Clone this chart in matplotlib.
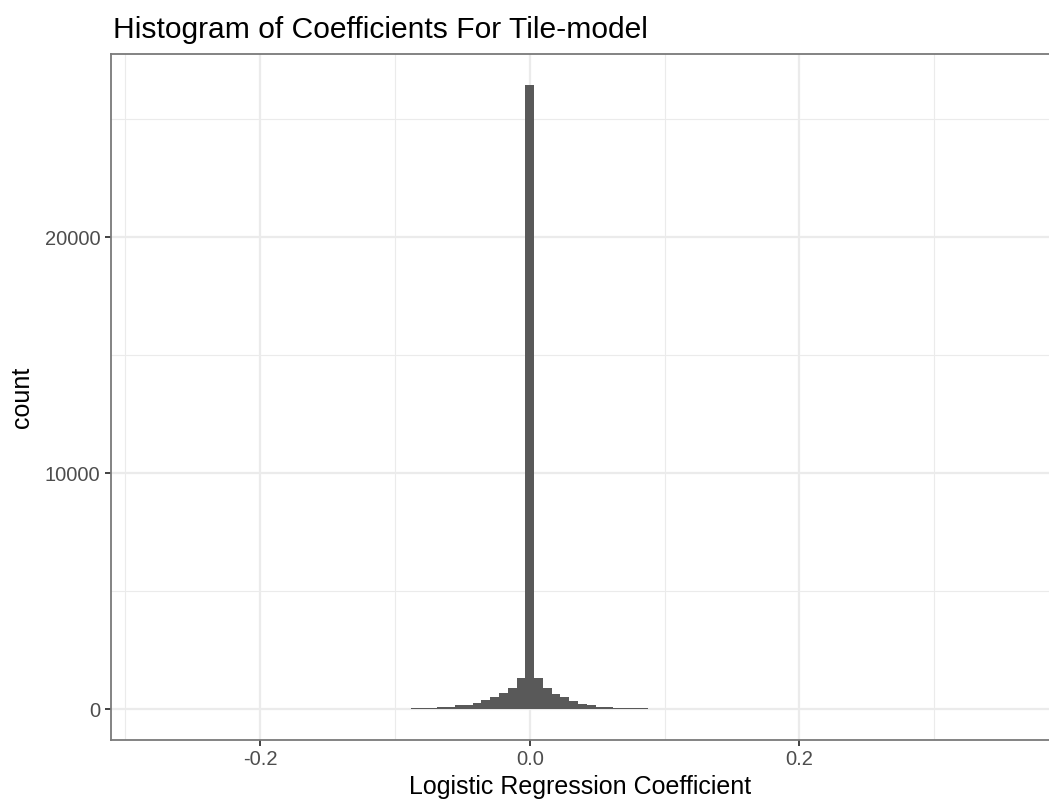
"""Histogram of per-tile logistic regression coefficients."""

import matplotlib

matplotlib.use("Agg")
import matplotlib.pyplot as plt
import numpy as np
from matplotlib.ticker import FixedLocator

plt.rcParams["font.family"] = ["Liberation Sans", "DejaVu Sans"]

# bin layout: equal-width bins, one of them centred on 0
BIN_WIDTH = 0.00652

# counts per bin, left to right
counts_left = [1, 1, 1, 1, 2, 1, 2, 2, 2, 3,
               2, 3, 3, 3, 4, 3, 4, 4, 5, 5,
               6, 6, 7, 8, 9, 10, 12, 15, 30, 40,
               50, 75, 95, 150, 190, 240, 380, 490, 680, 890,
               1300]
count_zero = [26450]
counts_right = [1300, 890, 640, 490, 350, 200, 160, 95, 75, 45,
                35, 30, 25, 20, 12, 9, 7, 6, 5, 5,
                4, 4, 3, 3, 3, 2, 2, 2, 2, 2,
                2, 1, 1, 1, 1, 1, 1, 1, 1, 1,
                1, 1, 1, 1, 1, 1, 1, 1, 1, 1,
                1, 1, 1, 1, 1, 1, 1]
counts = np.array(counts_left + count_zero + counts_right, dtype=float)

x_major = [-0.2, 0.0, 0.2]
x_minor = [-0.3, -0.1, 0.1, 0.3]
y_major = [0, 10000, 20000]
y_minor = [5000, 15000, 25000]

TITLE = "Histogram of Coefficients For Tile-model"
XLABEL = "Logistic Regression Coefficient"
YLABEL = "count"


def main() -> None:
    first_bin = -len(counts_left)
    edges = (np.arange(len(counts) + 1) + first_bin - 0.5) * BIN_WIDTH

    fig = plt.figure(figsize=(10.49, 7.99), dpi=100)
    ax = fig.add_axes([0.1058, 0.0738, 0.8952, 0.8586])

    ax.stairs(counts, edges, fill=True, color="#595959", linewidth=0)

    ax.set_xlim(-0.3106, 0.386)
    ax.set_ylim(-1314, 27754)

    ax.xaxis.set_major_locator(FixedLocator(x_major))
    ax.xaxis.set_minor_locator(FixedLocator(x_minor))
    ax.yaxis.set_major_locator(FixedLocator(y_major))
    ax.yaxis.set_minor_locator(FixedLocator(y_minor))
    ax.set_xticklabels(["-0.2", "0.0", "0.2"])
    ax.set_yticklabels(["0", "10000", "20000"])

    ax.set_axisbelow(True)
    ax.grid(which="major", color="#EBEBEB", linewidth=1.6)
    ax.grid(which="minor", color="#EBEBEB", linewidth=0.8)

    ax.tick_params(which="major", length=4.5, width=1.3, color="#333333",
                   labelsize=14.5, labelcolor="#4D4D4D", pad=3)
    ax.tick_params(which="minor", length=0)

    for side in ("left", "top", "bottom"):
        ax.spines[side].set_color("#7a7a7a")
        ax.spines[side].set_linewidth(1.3)
    ax.spines["right"].set_visible(False)

    ax.set_xlabel(XLABEL, fontsize=18, color="black", labelpad=4)
    ax.set_ylabel(YLABEL, fontsize=18, color="black", labelpad=8)
    fig.text(0.1077, 0.945, TITLE, fontsize=21.6, color="black",
             ha="left", va="bottom")

    fig.savefig("out.png", dpi=100)
    plt.close(fig)


if __name__ == "__main__":
    main()
